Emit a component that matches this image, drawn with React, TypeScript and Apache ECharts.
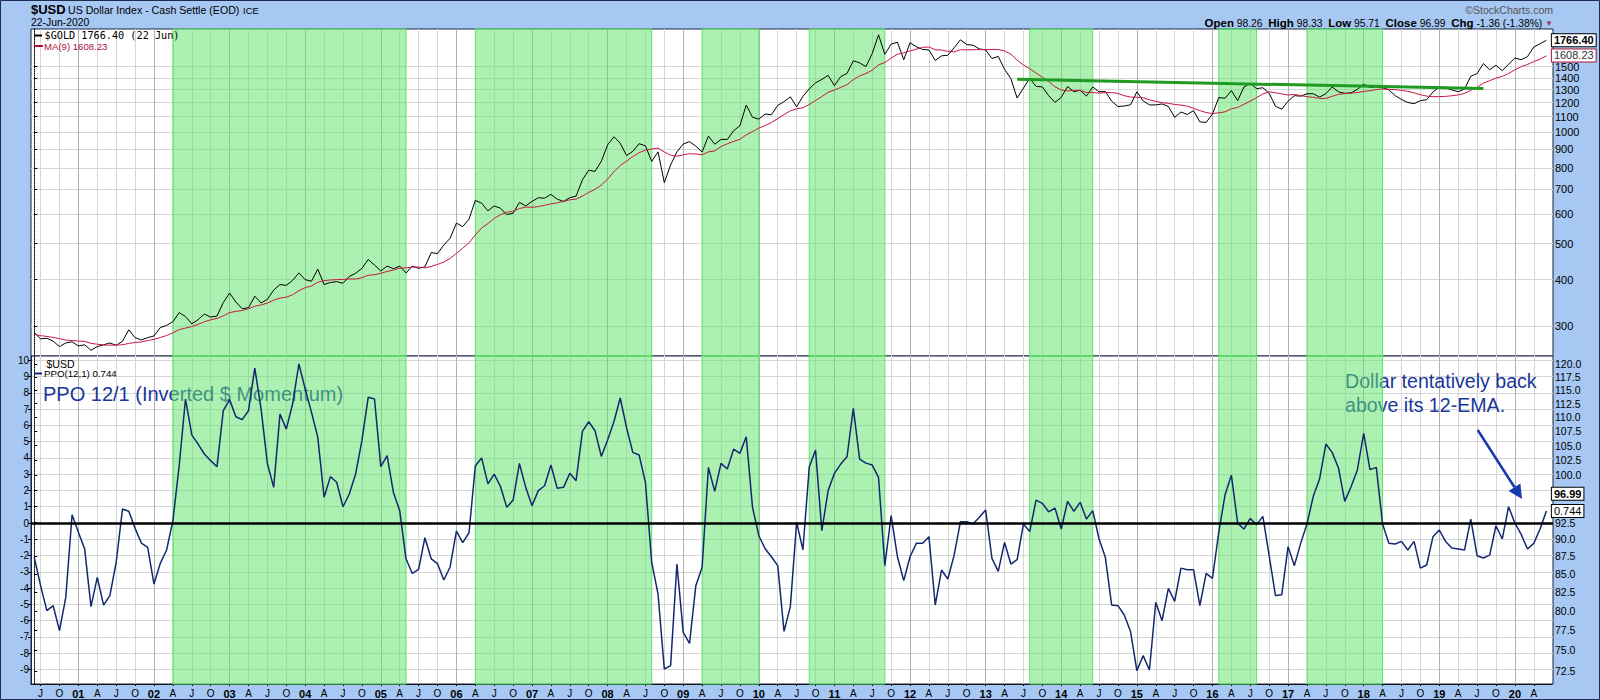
import { useEffect, useRef } from "react";
import * as echarts from "echarts";

const FONT = "'Liberation Sans', Arial, sans-serif";
const MONO = "'DejaVu Sans Mono', monospace";

// ---------------- data ----------------
const startYear = 2000;
const startMonth = 6; // first plotted month: June 2000

// gold closes Oct 1999 – May 2000 (only used to start the 9-month average)
const goldWarmup = [299, 291, 288, 283, 293, 277, 274, 272];

const gold2000to2004 = [
  288, 277, 278, 273, 264, 270, 272,
  265, 267, 258, 264, 267, 270, 266, 273, 293, 279, 275, 279,
  282, 297, 301, 308, 326, 318, 304, 312, 323, 317, 319, 347,
  368, 348, 334, 336, 361, 346, 354, 375, 388, 386, 398, 417,
  400, 396, 427, 388, 393, 395, 391, 408, 416, 429, 453, 438,
];
const gold2005to2009 = [
  422, 435, 428, 435, 417, 435, 429, 433, 473, 470, 496, 517,
  568, 556, 582, 654, 643, 613, 632, 623, 599, 604, 646, 632,
  650, 665, 663, 679, 659, 650, 665, 672, 743, 789, 783, 834,
  923, 971, 933, 864, 887, 930, 918, 833, 884, 730, 815, 884,
  928, 942, 916, 883, 975, 927, 955, 955, 1008, 1040, 1182, 1096,
];
const gold2010to2014 = [
  1083, 1118, 1113, 1180, 1207, 1244, 1169, 1248, 1307, 1357, 1386, 1421,
  1333, 1410, 1439, 1556, 1536, 1500, 1628, 1828, 1620, 1725, 1746, 1566,
  1740, 1697, 1669, 1664, 1559, 1604, 1610, 1687, 1772, 1720, 1714, 1675,
  1664, 1578, 1598, 1476, 1393, 1234, 1313, 1395, 1327, 1323, 1253, 1202,
  1240, 1326, 1284, 1296, 1250, 1322, 1283, 1286, 1211, 1171, 1175, 1184,
];
const gold2015to2020 = [
  1283, 1213, 1183, 1183, 1190, 1172, 1095, 1132, 1115, 1142, 1065, 1061,
  1118, 1238, 1233, 1293, 1215, 1322, 1351, 1309, 1316, 1272, 1173, 1152,
  1211, 1253, 1249, 1268, 1268, 1242, 1269, 1322, 1283, 1271, 1275, 1303,
  1345, 1318, 1325, 1316, 1299, 1253, 1224, 1201, 1192, 1215, 1222, 1282,
  1321, 1316, 1298, 1284, 1305, 1413, 1437, 1529, 1472, 1513, 1463, 1523,
  1583, 1566, 1596, 1694, 1730, 1766.4,
];

const ppo2000to2004 = [
  -2.11, -3.85, -5.38, -5.08, -6.61, -4.57, 0.51,
  -0.57, -1.6, -5.14, -3.34, -5.04, -4.46, -2.42, 0.86, 0.72, -0.33, -1.23, -1.49,
  -3.75, -2.48, -1.66, 0.14, 3.52, 7.62, 5.41, 4.85, 4.24, 3.83, 3.46, 6.9,
  7.58, 6.53, 6.35, 6.9, 9.52, 7.0, 3.66, 2.19, 6.7, 5.77, 7.31, 9.77,
  8.23, 6.8, 5.26, 1.58, 2.85, 2.5, 1.0, 1.78, 3.01, 5.06, 7.72, 7.62,
];
const ppo2005to2009 = [
  3.46, 4.14, 1.88, 0.76, -2.2, -3.1, -2.85, -0.9, -2.2, -2.5, -3.5, -2.7,
  -0.5, -1.2, -0.6, 3.5, 4.0, 2.4, 3.0, 2.23, 0.96, 1.41, 3.66, 2.19,
  1.06, 1.99, 2.29, 3.56, 2.13, 2.19, 3.05, 2.6, 5.63, 6.22, 5.67, 4.09,
  5.1, 6.22, 7.68, 5.87, 4.34, 4.18, 2.5, -2.42, -4.36, -8.97, -8.76, -2.52,
  -6.72, -7.4, -3.85, -2.72, 3.42, 1.94, 3.66, 3.32, 4.54, 4.28, 5.3, 0.96,
];
const ppo2010to2014 = [
  -0.78, -1.58, -2.07, -2.62, -6.66, -5.14, 0.04, -1.64, 3.42, 4.48, -0.47, 1.99,
  3.05, 3.62, 4.07, 7.04, 3.93, 3.68, 3.56, 2.8, -2.62, 0.45, -2.07, -3.54,
  -2.07, -1.25, -1.25, -0.84, -5.04, -2.89, -3.44, -1.97, 0.08, 0.08, -0.06, 0.35,
  0.8, -2.17, -2.97, -1.19, -2.52, -2.25, -0.06, -0.53, 1.41, 1.21, 0.69, 0.92,
  -0.37, 1.33, 0.72, 1.27, 0.24, 0.76, -0.98, -2.11, -5.04, -5.08, -5.65, -6.67,
];
const ppo2015to2020 = [
  -9.07, -8.15, -9.03, -4.87, -6.0, -4.01, -4.81, -2.77, -2.87, -2.87, -5.08, -3.09,
  -3.4, -0.57, 1.74, 2.94, -0.02, -0.37, 0.28, -0.1, 0.41, -2.01, -4.46, -4.4,
  -1.45, -2.62, -1.25, -0.06, 1.64, 2.7, 4.85, 4.34, 3.38, 1.33, 2.23, 3.26,
  5.51, 3.28, 3.42, -0.06, -1.25, -1.29, -1.13, -1.66, -1.13, -2.77, -2.58, -0.84,
  -0.43, -1.13, -1.54, -1.6, -1.66, 0.24, -2.01, -2.15, -1.97, -0.17, -0.98, 1.0,
  0.0, -0.7, -1.6, -1.25, -0.37, 0.744,
];

const shadeStart = ["2002-04", "2006-04", "2009-04", "2010-09", "2013-08", "2016-02", "2017-04"];
const shadeEnd = ["2005-05", "2008-08", "2010-01", "2011-09", "2014-06", "2016-08", "2018-04"];

const trendMonths = ["2013-06", "2019-08"];
const trendValues = [1387, 1309];

const goldTicks = [300, 400, 500, 600, 700, 800, 900, 1000, 1100, 1200, 1300, 1400, 1500];
const ppoTicks = [-9, -8, -7, -6, -5, -4, -3, -2, -1, 0, 1, 2, 3, 4, 5, 6, 7, 8, 9, 10];
const usdTicks = [72.5, 75, 77.5, 80, 82.5, 85, 87.5, 90, 92.5, 95, 97.5, 100, 102.5, 105, 107.5, 110, 112.5, 115, 117.5, 120];
// 95.0 and 97.5 sit behind the boxed close / PPO tags in the reference
const usdLabelTicks = usdTicks.filter((v) => v !== 95 && v !== 97.5);
const quarterLetters: Record<string, string> = { "04": "A", "07": "J", "10": "O" };

const goldLast = 1766.4;
const maLast = 1608.23;
const ppoLast = 0.744;
const usdClose = 96.99;
const quoteNames = ["Open", "High", "Low", "Close", "Chg"];
const quoteValues = ["98.26", "98.33", "95.71", "96.99", "-1.36 (-1.38%)"];

// ---------------- derived ----------------
const gold = [...gold2000to2004, ...gold2005to2009, ...gold2010to2014, ...gold2015to2020];
const ppo = [...ppo2000to2004, ...ppo2005to2009, ...ppo2010to2014, ...ppo2015to2020];
const goldAll = [...goldWarmup, ...gold];
const ma9 = gold.map((_, i) => goldAll.slice(i, i + 9).reduce((a, b) => a + b, 0) / 9);

const monthLabels = gold.map((_, i) => {
  const t = startYear * 12 + (startMonth - 1) + i;
  const y = Math.floor(t / 12);
  const m = (t % 12) + 1;
  return `${y}-${String(m).padStart(2, "0")}`;
});
const at = (label: string) => monthLabels.indexOf(label);
const lastIdx = gold.length - 1;
const quarterTicks = monthLabels
  .map((l, i) => ({ l, i }))
  .filter(({ l }) => ["01", "04", "07", "10"].includes(l.slice(5)))
  .map(({ i }) => i);

const xLabel = (v: number) => {
  const l = monthLabels[Math.round(v)];
  if (!l) return "";
  const mm = l.slice(5);
  if (mm === "01") return `{y|${l.slice(2, 4)}}`;
  return quarterLetters[mm] || "";
};

const shadePairs = shadeStart.map((s, k) => [{ xAxis: at(s) }, { xAxis: at(shadeEnd[k]) }]);
const shadeStyle = {
  color: "rgba(98,228,108,0.52)",
  borderColor: "#5fe36d",
  borderWidth: 1,
};

const X_MIN = -0.52;
const X_MAX = 241.05;
const vGridColors = ["#d6d6d6", "#d6d6d6", "#b0b0b0", "#d6d6d6"];

const boxLabel = (text: string, border: string, bold: boolean, color = "#000") => ({
  show: true,
  position: "right" as const,
  distance: 5,
  formatter: text,
  backgroundColor: "#fff",
  borderColor: border,
  borderWidth: 1,
  padding: [1, 2, 0, 2],
  color,
  opacity: 1,
  fontFamily: FONT,
  fontSize: 11,
  fontWeight: bold ? ("bold" as const) : ("normal" as const),
});

const tagSeries = (name: string, xi: number, yi: number, value: number, label: any) => ({
  name, type: "scatter", xAxisIndex: xi, yAxisIndex: yi, z: 20, silent: true, clip: false,
  symbol: "circle", symbolSize: 1,
  itemStyle: { color: "rgba(0,0,0,0)" },
  data: [[lastIdx, value]], label,
});

const makeOption = () => ({
  animation: false,
  backgroundColor: "#a6c8f2",
  grid: [
    { left: 31, top: 29, width: 1522, height: 327, show: true, backgroundColor: "#fff", borderColor: "#1b2440", borderWidth: 1 },
    { left: 31, top: 356, width: 1522, height: 328, show: true, backgroundColor: "#fff", borderColor: "#1b2440", borderWidth: 1 },
  ],
  xAxis: [
    {
      gridIndex: 0, type: "value", min: X_MIN, max: X_MAX,
      axisLine: { show: false },
      axisTick: { show: false, customValues: quarterTicks },
      axisLabel: { show: false, customValues: quarterTicks },
      splitLine: { show: true, lineStyle: { color: vGridColors, width: 1 } },
    },
    {
      gridIndex: 1, type: "value", min: X_MIN, max: X_MAX,
      axisLine: { show: true, onZero: false, lineStyle: { color: "#000", type: "dotted", width: 1 } },
      axisTick: { show: true, length: 2, customValues: quarterTicks, lineStyle: { color: "#000" } },
      axisLabel: {
        show: true, customValues: quarterTicks, formatter: xLabel, margin: 4,
        color: "#000", fontFamily: FONT, fontSize: 10,
        rich: { y: { fontWeight: "bold", fontSize: 11, fontFamily: FONT, color: "#000" } },
      },
      splitLine: { show: true, lineStyle: { color: vGridColors, width: 1 } },
    },
  ],
  yAxis: [
    {
      gridIndex: 0, type: "log", logBase: 10, position: "right", min: 249, max: 1895,
      axisLine: { show: true, lineStyle: { color: "#000", type: "dotted" } },
      axisTick: { show: true, length: 3, customValues: goldTicks, lineStyle: { color: "#000" } },
      axisLabel: { customValues: goldTicks, margin: 2, color: "#000", fontFamily: FONT, fontSize: 11, formatter: (v: number) => String(Math.round(v)) },
      splitLine: { show: true, lineStyle: { color: "#d6d6d6", width: 1 } },
    },
    {
      gridIndex: 1, type: "value", position: "left", min: -9.89, max: 10.26,
      axisLine: { show: true, onZero: false, lineStyle: { color: "#1b2440" } },
      axisTick: { show: true, length: 3, customValues: ppoTicks, lineStyle: { color: "#000" } },
      axisLabel: { customValues: ppoTicks, margin: 2, color: "#000", fontFamily: FONT, fontSize: 10, formatter: (v: number) => String(v) },
      splitLine: { show: true, lineStyle: { color: "#d6d6d6", width: 1 } },
    },
    {
      gridIndex: 1, type: "log", logBase: 10, position: "right", min: 70.94, max: 121.65,
      axisLine: { show: true, lineStyle: { color: "#000", type: "dotted" } },
      axisTick: { show: true, length: 3, customValues: usdTicks, lineStyle: { color: "#000" } },
      axisLabel: { customValues: usdLabelTicks, margin: 2, color: "#000", fontFamily: FONT, fontSize: 10.5, formatter: (v: number) => v.toFixed(1) },
      splitLine: { show: false },
    },
  ],
  series: [
    {
      name: "gold", type: "line", xAxisIndex: 0, yAxisIndex: 0, z: 2, silent: true,
      data: gold.map((v, i) => [i, v]), symbol: "none",
      lineStyle: { color: "#000", width: 1 },
    },
    {
      name: "ma9", type: "line", xAxisIndex: 0, yAxisIndex: 0, z: 2, silent: true,
      data: ma9.map((v, i) => [i, v]), symbol: "none",
      lineStyle: { color: "#c8173f", width: 1 },
    },
    {
      name: "shadeTop", type: "line", xAxisIndex: 0, yAxisIndex: 0, z: 5, silent: true, data: [],
      markArea: { silent: true, itemStyle: shadeStyle, data: shadePairs },
    },
    {
      name: "trend", type: "line", xAxisIndex: 0, yAxisIndex: 0, z: 6, silent: true, data: [],
      markLine: {
        silent: true, symbol: ["none", "none"], label: { show: false },
        lineStyle: { color: "#1f9a22", width: 3, type: "solid" },
        data: [[{ coord: [at(trendMonths[0]), trendValues[0]] }, { coord: [at(trendMonths[1]), trendValues[1]] }]],
      },
    },
    {
      name: "ppo", type: "line", xAxisIndex: 1, yAxisIndex: 1, z: 2, silent: true,
      data: ppo.map((v, i) => [i, v]), symbol: "none",
      lineStyle: { color: "#14286e", width: 1.5 },
      markLine: {
        silent: true, symbol: ["none", "none"], label: { show: false },
        lineStyle: { color: "#000", width: 2.5, type: "solid" },
        data: [{ yAxis: 0 }],
      },
    },
    {
      name: "shadeBottom", type: "line", xAxisIndex: 1, yAxisIndex: 1, z: 5, silent: true, data: [],
      markArea: { silent: true, itemStyle: shadeStyle, data: shadePairs },
    },
    tagSeries("goldTag", 0, 0, goldLast, boxLabel(goldLast.toFixed(2), "#000", true)),
    tagSeries("maTag", 0, 0, maLast, boxLabel(maLast.toFixed(2), "#b0103a", false, "#333")),
    tagSeries("usdTag", 1, 2, usdClose, boxLabel(usdClose.toFixed(2), "#000", true)),
    tagSeries("ppoTag", 1, 1, ppoLast, boxLabel(ppoLast.toFixed(3), "#000", false)),
  ],
  graphic: [
    { type: "rect", z: 100, silent: true, shape: { x: 0.5, y: 0.5, width: 1599, height: 699 }, style: { fill: "none", stroke: "#1d2b50", lineWidth: 1 } },
    { type: "text", z: 10, x: 31, y: 9, style: { text: "$USD", fill: "#000", fontFamily: FONT, fontSize: 13, fontWeight: "bold", verticalAlign: "middle" } },
    { type: "text", z: 10, x: 68, y: 9.5, style: { text: "US Dollar Index - Cash Settle (EOD)", fill: "#000", fontFamily: FONT, fontSize: 10.6, verticalAlign: "middle" } },
    { type: "text", z: 10, x: 243, y: 10, style: { text: "ICE", fill: "#000", fontFamily: FONT, fontSize: 9.5, verticalAlign: "middle" } },
    { type: "text", z: 10, x: 31, y: 22.5, style: { text: "22-Jun-2020", fill: "#000", fontFamily: FONT, fontSize: 10.4, verticalAlign: "middle" } },
    { type: "text", z: 10, x: 1553, y: 9.5, style: { text: "\u00A9StockCharts.com", fill: "#555", fontFamily: FONT, fontSize: 10.5, align: "right", verticalAlign: "middle" } },
    {
      type: "text", z: 10, x: 1553, y: 23,
      style: {
        text: quoteNames.map((n, k) => `{b|${n}} ${quoteValues[k]}`).join("  ") + " {t|\u25BC}",
        fill: "#000", fontFamily: FONT, fontSize: 10.3, align: "right", verticalAlign: "middle",
        rich: {
          b: { fontFamily: FONT, fontSize: 11.5, fontWeight: "bold", fill: "#000" },
          t: { fontFamily: FONT, fontSize: 8, fill: "#993366" },
        },
      },
    },
    // legends
    { type: "line", z: 10, shape: { x1: 34, y1: 35.5, x2: 42, y2: 35.5 }, style: { stroke: "#000", lineWidth: 2 } },
    { type: "text", z: 10, x: 44.5, y: 35.5, style: { text: `$GOLD ${goldLast.toFixed(2)} (22 Jun)`, fill: "#000", fontFamily: MONO, fontSize: 10.2, verticalAlign: "middle" } },
    { type: "line", z: 10, shape: { x1: 34, y1: 46, x2: 43, y2: 46 }, style: { stroke: "#b0103a", lineWidth: 2 } },
    { type: "text", z: 10, x: 44, y: 46, style: { text: `MA(9) ${maLast.toFixed(2)}`, fill: "#b0103a", fontFamily: FONT, fontSize: 9.6, verticalAlign: "middle" } },
    { type: "text", z: 10, x: 46.5, y: 363.5, style: { text: "$USD", fill: "#000", fontFamily: FONT, fontSize: 10.5, verticalAlign: "middle" } },
    { type: "line", z: 10, shape: { x1: 34, y1: 373.5, x2: 42, y2: 373.5 }, style: { stroke: "#14286e", lineWidth: 2 } },
    { type: "text", z: 10, x: 44, y: 373.5, style: { text: `PPO(12,1) ${ppoLast}`, fill: "#000", fontFamily: FONT, fontSize: 9.7, verticalAlign: "middle" } },
    // annotations (below the green shading)
    { type: "text", z: 1, x: 43, y: 394, style: { text: "PPO 12/1 (Inverted $ Momentum)", fill: "#1a379a", fontFamily: FONT, fontSize: 20, verticalAlign: "middle" } },
    { type: "text", z: 1, x: 1345, y: 381, style: { text: "Dollar tentatively back", fill: "#1a379a", fontFamily: FONT, fontSize: 19.6, verticalAlign: "middle" } },
    { type: "text", z: 1, x: 1345, y: 404.5, style: { text: "above its 12-EMA.", fill: "#1a379a", fontFamily: FONT, fontSize: 19.6, verticalAlign: "middle" } },
    { type: "line", z: 1, shape: { x1: 1477.7, y1: 430, x2: 1514.5, y2: 487.2 }, style: { stroke: "#1838b0", lineWidth: 2.5 } },
    { type: "polygon", z: 1, shape: { points: [[1522, 499], [1520.4, 483.4], [1508.6, 491]] }, style: { fill: "#1838b0" } },
  ],
});

export default function App() {
  const ref = useRef<HTMLDivElement>(null);
  useEffect(() => {
    if (!ref.current) return;
    const chart = echarts.init(ref.current, null, { renderer: "svg" });
    chart.setOption(makeOption() as any);
    return () => chart.dispose();
  }, []);
  return <div ref={ref} style={{ position: "absolute", left: 0, top: 0, width: 1600, height: 700 }} />;
}
